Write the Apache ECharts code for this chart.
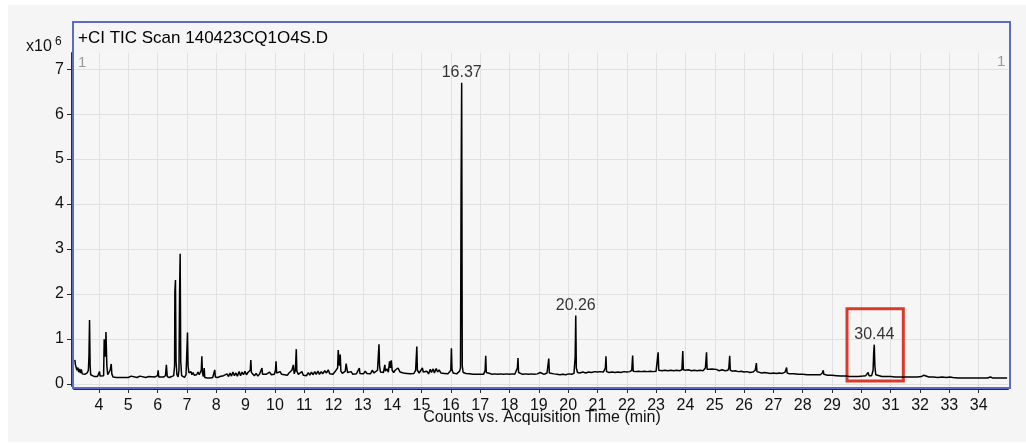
<!DOCTYPE html>
<html>
<head>
<meta charset="utf-8">
<script src="https://cdn.jsdelivr.net/npm/echarts@6/dist/echarts.min.js"></script>
<style>
  html, body { margin: 0; padding: 0; background: #ffffff; }
  #chart { width: 1026px; height: 443px; }
</style>
</head>
<body>
<div id="chart"></div>
<script>
// Total ion chromatogram: [acquisition time (min), counts (x10^6)]
const ticTrace = [
  [3.18,0.53],[3.20,0.42],[3.22,0.45],[3.25,0.30],[3.28,0.36],[3.31,0.26],[3.34,0.33],[3.37,0.24],
  [3.40,0.32],[3.43,0.22],[3.47,0.23],[3.52,0.21],[3.56,0.22],[3.60,0.24],[3.64,0.30],[3.66,0.60],
  [3.68,1.42],[3.70,0.40],[3.72,0.20],[3.76,0.16],[3.85,0.16],[3.95,0.16],[4.00,0.20],[4.02,0.27],
  [4.04,0.17],[4.10,0.16],[4.16,0.18],[4.18,0.99],[4.21,1.00],[4.22,0.60],[4.24,1.15],[4.27,0.40],
  [4.30,0.20],[4.34,0.24],[4.38,0.30],[4.42,0.44],[4.44,0.22],[4.48,0.15],[4.60,0.14],[4.80,0.14],
  [5.00,0.14],[5.10,0.17],[5.14,0.14],[5.30,0.14],[5.40,0.17],[5.44,0.14],[5.60,0.14],[5.70,0.16],
  [5.75,0.14],[5.90,0.15],[6.00,0.18],[6.02,0.30],[6.04,0.15],[6.10,0.14],[6.20,0.15],[6.27,0.18],
  [6.30,0.42],[6.33,0.16],[6.40,0.14],[6.48,0.16],[6.55,0.18],[6.58,0.40],[6.59,2.05],[6.60,2.09],
  [6.61,2.31],[6.63,0.50],[6.66,0.20],[6.70,0.15],[6.73,0.30],[6.75,2.00],[6.77,2.89],[6.79,0.50],
  [6.82,0.18],[6.86,0.14],[6.92,0.14],[6.97,0.20],[6.99,0.55],[7.02,1.14],[7.04,0.40],[7.07,0.24],
  [7.10,0.20],[7.14,0.27],[7.17,0.20],[7.21,0.25],[7.25,0.19],[7.29,0.23],[7.33,0.20],[7.38,0.26],
  [7.42,0.20],[7.46,0.18],[7.49,0.30],[7.51,0.61],[7.53,0.25],[7.56,0.16],[7.59,0.35],[7.61,0.14],
  [7.70,0.13],[7.80,0.13],[7.88,0.14],[7.93,0.17],[7.95,0.31],[7.97,0.15],[8.05,0.14],[8.12,0.16],
  [8.18,0.14],[8.25,0.18],[8.30,0.15],[8.37,0.22],[8.42,0.16],[8.47,0.24],[8.52,0.17],[8.57,0.26],
  [8.62,0.18],[8.67,0.24],[8.72,0.17],[8.78,0.27],[8.83,0.18],[8.88,0.26],[8.93,0.20],[8.98,0.28],
  [9.03,0.20],[9.08,0.25],[9.13,0.22],[9.16,0.30],[9.18,0.53],[9.20,0.25],[9.25,0.21],[9.30,0.18],
  [9.36,0.23],[9.42,0.17],[9.48,0.22],[9.53,0.20],[9.56,0.35],[9.58,0.21],[9.64,0.18],[9.70,0.21],
  [9.76,0.18],[9.82,0.26],[9.88,0.20],[9.93,0.24],[9.98,0.21],[10.02,0.30],[10.04,0.50],[10.06,0.24],
  [10.12,0.20],[10.18,0.27],[10.23,0.21],[10.28,0.25],[10.33,0.20],[10.38,0.23],[10.43,0.19],[10.48,0.24],
  [10.53,0.21],[10.58,0.30],[10.63,0.42],[10.66,0.22],[10.70,0.30],[10.73,0.77],[10.75,0.28],[10.80,0.21],
  [10.86,0.18],[10.92,0.27],[10.97,0.19],[11.03,0.22],[11.08,0.18],[11.14,0.25],[11.19,0.19],[11.25,0.26],
  [11.30,0.20],[11.36,0.27],[11.41,0.21],[11.47,0.28],[11.52,0.21],[11.58,0.27],[11.63,0.22],[11.70,0.29],
  [11.76,0.24],[11.82,0.31],[11.87,0.22],[11.93,0.25],[11.98,0.21],[12.04,0.26],[12.10,0.24],[12.14,0.35],
  [12.16,0.75],[12.18,0.78],[12.20,0.40],[12.23,0.65],[12.25,0.28],[12.30,0.23],[12.36,0.25],[12.40,0.28],
  [12.43,0.45],[12.46,0.48],[12.48,0.25],[12.54,0.22],[12.60,0.27],[12.66,0.21],[12.72,0.25],[12.78,0.22],
  [12.84,0.26],[12.88,0.35],[12.90,0.23],[12.96,0.26],[13.02,0.22],[13.08,0.28],[13.14,0.23],[13.20,0.26],
  [13.26,0.22],[13.32,0.30],[13.38,0.24],[13.44,0.28],[13.50,0.30],[13.55,0.88],[13.57,0.40],[13.60,0.26],
  [13.66,0.30],[13.70,0.25],[13.75,0.42],[13.77,0.28],[13.82,0.33],[13.87,0.26],[13.91,0.50],[13.94,0.35],
  [13.97,0.52],[14.00,0.30],[14.05,0.25],[14.10,0.30],[14.15,0.26],[14.20,0.35],[14.23,0.33],[14.27,0.26],
  [14.33,0.29],[14.38,0.24],[14.44,0.27],[14.50,0.23],[14.56,0.26],[14.62,0.22],[14.68,0.25],[14.74,0.23],
  [14.80,0.30],[14.84,0.83],[14.86,0.30],[14.92,0.24],[14.98,0.27],[15.03,0.35],[15.06,0.26],[15.12,0.23],
  [15.18,0.28],[15.24,0.22],[15.30,0.32],[15.34,0.25],[15.40,0.33],[15.44,0.24],[15.50,0.34],[15.55,0.26],
  [15.60,0.31],[15.66,0.24],[15.72,0.27],[15.78,0.23],[15.84,0.25],[15.90,0.22],[15.96,0.25],[16.00,0.30],
  [16.02,0.79],[16.04,0.32],[16.08,0.24],[16.14,0.26],[16.20,0.22],[16.25,0.25],[16.30,0.28],[16.33,0.35],
  [16.35,4.35],[16.37,6.70],[16.39,0.40],[16.42,0.25],[16.47,0.28],[16.52,0.23],[16.58,0.27],[16.64,0.22],
  [16.70,0.25],[16.76,0.21],[16.82,0.24],[16.88,0.21],[16.94,0.22],[17.00,0.21],[17.06,0.22],[17.12,0.21],
  [17.17,0.30],[17.19,0.62],[17.21,0.25],[17.26,0.22],[17.33,0.23],[17.40,0.21],[17.50,0.22],[17.60,0.21],
  [17.70,0.22],[17.80,0.21],[17.90,0.22],[18.00,0.21],[18.10,0.22],[18.18,0.21],[18.24,0.24],[18.27,0.35],
  [18.29,0.57],[18.31,0.25],[18.36,0.22],[18.45,0.21],[18.55,0.22],[18.65,0.21],[18.75,0.22],[18.85,0.21],
  [18.95,0.22],[19.05,0.25],[19.08,0.22],[19.18,0.21],[19.28,0.24],[19.31,0.40],[19.34,0.56],[19.36,0.24],
  [19.42,0.21],[19.52,0.22],[19.62,0.21],[19.72,0.20],[19.82,0.21],[19.92,0.20],[20.02,0.22],[20.12,0.21],
  [20.20,0.23],[20.24,0.60],[20.26,1.52],[20.28,0.35],[20.32,0.25],[20.40,0.24],[20.50,0.26],[20.60,0.24],
  [20.70,0.26],[20.80,0.25],[20.90,0.27],[21.00,0.26],[21.10,0.27],[21.20,0.26],[21.27,0.35],[21.29,0.61],
  [21.31,0.27],[21.40,0.25],[21.50,0.26],[21.60,0.25],[21.70,0.26],[21.80,0.25],[21.90,0.27],[22.00,0.26],
  [22.10,0.27],[22.17,0.30],[22.20,0.63],[22.22,0.28],[22.30,0.27],[22.40,0.28],[22.50,0.27],[22.60,0.28],
  [22.70,0.27],[22.80,0.28],[22.90,0.27],[23.00,0.28],[23.05,0.32],[23.07,0.70],[23.09,0.30],[23.20,0.29],
  [23.30,0.30],[23.40,0.29],[23.50,0.30],[23.60,0.29],[23.70,0.30],[23.80,0.29],[23.88,0.31],[23.91,0.73],
  [23.93,0.31],[24.00,0.30],[24.10,0.31],[24.20,0.29],[24.30,0.30],[24.40,0.29],[24.50,0.30],[24.60,0.29],
  [24.68,0.35],[24.72,0.70],[24.74,0.32],[24.80,0.30],[24.90,0.33],[24.95,0.30],[25.05,0.32],[25.15,0.29],
  [25.25,0.31],[25.35,0.29],[25.45,0.30],[25.48,0.35],[25.51,0.62],[25.53,0.30],[25.60,0.28],[25.70,0.29],
  [25.80,0.27],[25.90,0.28],[26.00,0.26],[26.10,0.27],[26.20,0.25],[26.30,0.26],[26.38,0.30],[26.42,0.46],
  [26.44,0.27],[26.50,0.25],[26.60,0.24],[26.70,0.25],[26.80,0.24],[26.90,0.23],[27.00,0.24],[27.10,0.23],
  [27.20,0.24],[27.30,0.23],[27.40,0.26],[27.45,0.36],[27.47,0.24],[27.55,0.22],[27.70,0.22],[27.85,0.21],
  [28.00,0.21],[28.15,0.20],[28.30,0.20],[28.45,0.20],[28.60,0.20],[28.67,0.24],[28.70,0.30],[28.72,0.21],
  [28.85,0.19],[29.00,0.19],[29.15,0.18],[29.30,0.17],[29.45,0.17],[29.60,0.16],[29.75,0.16],[29.90,0.16],
  [30.05,0.17],[30.15,0.18],[30.21,0.22],[30.23,0.25],[30.26,0.18],[30.35,0.18],[30.40,0.30],[30.42,0.70],
  [30.44,0.87],[30.46,0.40],[30.49,0.20],[30.55,0.17],[30.70,0.16],[30.85,0.16],[31.00,0.16],[31.15,0.15],
  [31.30,0.15],[31.45,0.15],[31.60,0.15],[31.75,0.15],[31.90,0.15],[32.05,0.16],[32.13,0.19],[32.18,0.16],
  [32.30,0.15],[32.45,0.15],[32.60,0.14],[32.75,0.15],[32.90,0.14],[33.02,0.15],[33.07,0.17],[33.12,0.14],
  [33.30,0.13],[33.50,0.13],[33.70,0.13],[33.90,0.13],[34.10,0.13],[34.30,0.13],[34.40,0.15],[34.43,0.16],
  [34.47,0.13],[34.70,0.13],[34.97,0.13]
];

// Retention times annotated above their peaks
const labelledPeaks = [16.37, 20.26, 30.44];

// Boxed retention window [start, end] (min) and its count range (x10^6)
const boxedWindow = [29.51, 31.43];
const boxedCounts = [0.06, 1.67];

// Axis tick values
const xTicks = [4,5,6,7,8,9,10,11,12,13,14,15,16,17,18,19,20,21,22,23,24,25,26,27,28,29,30,31,32,33,34];
const yTicks = [0,1,2,3,4,5,6,7];

const FONT = '"Liberation Sans", Arial, sans-serif';

const peakPoints = labelledPeaks.map(t => {
  const p = ticTrace.find(d => Math.abs(d[0] - t) < 1e-9);
  return [t, p[1]];
});

const chart = echarts.init(document.getElementById('chart'), null, { renderer: 'canvas' });

chart.setOption({
  animation: false,
  backgroundColor: '#ffffff',
  grid: {
    left: 74, right: 18, top: 53, bottom: 57,
    show: true, backgroundColor: '#f6f6f6', borderWidth: 0
  },
  xAxis: {
    type: 'value', min: 3.15, max: 35, offset: 3,
    axisLine: { show: true, onZero: false, lineStyle: { color: '#2a2a2a', width: 2 } },
    axisTick: { show: true, customValues: xTicks, length: 4, lineStyle: { color: '#2a2a2a', width: 1 } },
    axisLabel: { customValues: xTicks, fontSize: 16, fontFamily: FONT, color: '#111', margin: 9 },
    splitLine: { show: true, lineStyle: { color: '#e1e1e1', width: 1 } }
  },
  yAxis: {
    type: 'value', min: -0.05, max: 7.36, offset: 2,
    axisLine: { show: true, onZero: false, lineStyle: { color: '#2a2a2a', width: 2 } },
    axisTick: { show: true, customValues: yTicks, length: 5, lineStyle: { color: '#2a2a2a', width: 1 } },
    axisLabel: { customValues: yTicks, fontSize: 16, fontFamily: FONT, color: '#111', margin: 8 },
    splitLine: { show: true, lineStyle: { color: '#e1e1e1', width: 1 } }
  },
  series: [
    {
      type: 'line',
      data: ticTrace,
      showSymbol: false,
      sampling: false,
      lineStyle: { color: '#000000', width: 1.5 },
      z: 3,
      markArea: {
        silent: true,
        itemStyle: { color: 'rgba(0,0,0,0)', borderColor: '#d83a2c', borderWidth: 3 },
        data: [[
          { xAxis: boxedWindow[0], yAxis: boxedCounts[0] },
          { xAxis: boxedWindow[1], yAxis: boxedCounts[1] }
        ]]
      }
    },
    {
      type: 'scatter',
      data: peakPoints,
      symbolSize: 0,
      silent: true,
      z: 4,
      label: {
        show: true, position: 'top', distance: 2,
        fontSize: 16, fontFamily: FONT, color: '#000',
        formatter: p => p.value[0].toFixed(2)
      }
    }
  ],
  graphic: [
    { type: 'rect', z: -10, shape: { x: 8, y: 5, width: 1018, height: 437 }, style: { fill: '#f5f5f5' } },
    { type: 'rect', z: 100, shape: { x: 73, y: 22, width: 937, height: 366 },
      style: { fill: 'none', stroke: '#5b6cc6', lineWidth: 2 } },
    { type: 'text', z: 101, x: 78, y: 38,
      style: { text: '+CI TIC Scan 140423CQ1O4S.D', font: '17px ' + FONT, fill: '#000', verticalAlign: 'middle' } },
    { type: 'text', z: 101, x: 26, y: 47,
      style: { text: 'x10', font: '16px ' + FONT, fill: '#111', verticalAlign: 'middle' } },
    { type: 'text', z: 101, x: 55, y: 42,
      style: { text: '6', font: '12px ' + FONT, fill: '#111', verticalAlign: 'middle' } },
    { type: 'text', z: 101, x: 78, y: 63,
      style: { text: '1', font: '15px ' + FONT, fill: '#9a9a9a', verticalAlign: 'middle' } },
    { type: 'text', z: 101, x: 997, y: 62,
      style: { text: '1', font: '15px ' + FONT, fill: '#9a9a9a', verticalAlign: 'middle' } },
    { type: 'text', z: 101, x: 542, y: 418,
      style: { text: 'Counts vs. Acquisition Time (min)', font: '16px ' + FONT, fill: '#111',
               align: 'center', verticalAlign: 'middle' } }
  ]
});
</script>
</body>
</html>
